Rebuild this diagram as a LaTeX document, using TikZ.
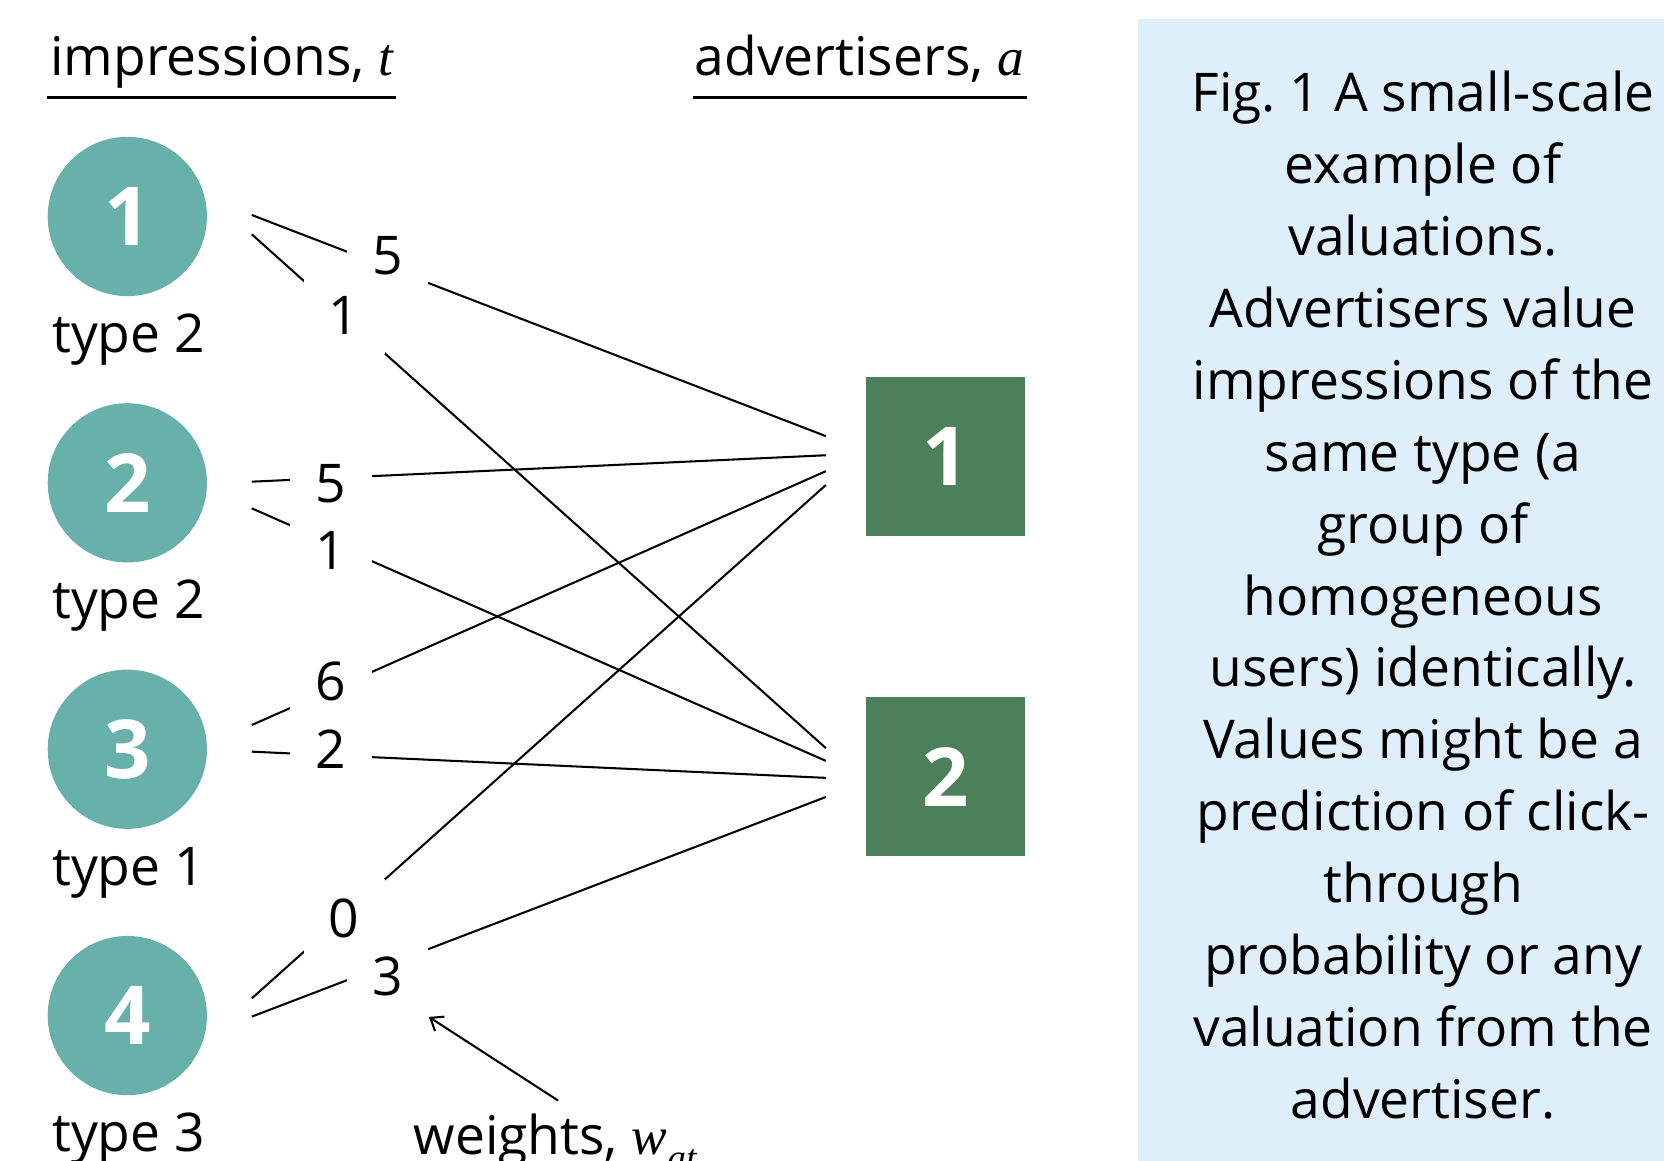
\documentclass[tikz,border=0pt]{standalone}
\usepackage{fontspec}
\setmainfont{Open Sans}
\newfontfamily\serifvar{Liberation Serif}
\newcommand{\mvar}[1]{{\serifvar\itshape #1}}
\usetikzlibrary{arrows.meta,calc,positioning}
\definecolor{imteal}{RGB}{104,176,170}
\definecolor{adgreen}{RGB}{77,127,90}
\definecolor{capblue}{RGB}{223,239,250}
\newcommand{\txtsize}{\fontsize{14.3}{17}\selectfont}
\frenchspacing
\tikzset{
  impr/.style={circle, fill=imteal, minimum size=1.5cm, inner sep=0pt,
               text=white, font=\fontsize{21.8}{26}\selectfont\bfseries},
  advr/.style={rectangle, fill=adgreen, minimum size=1.5cm, inner sep=0pt,
               text=white, font=\fontsize{21.8}{26}\selectfont\bfseries},
  hdr/.style={anchor=base west, inner sep=0pt, font=\txtsize},
  hdrline/.style={line width=0.72pt},
  typ/.style={anchor=base west, inner sep=0pt, font=\txtsize},
  edge/.style={line width=0.55pt},
  wt/.style={fill=white, minimum width=0.765cm, minimum height=0.74cm,
             inner sep=0pt, font=\txtsize},
  pointer/.style={line width=0.55pt, -{Straight Barb[length=3pt,width=4.6pt]}},
  capbox/.style={fill=capblue},
  captxt/.style={anchor=north, inner sep=0pt, align=center,
                 font=\fontsize{14.3}{19.28}\selectfont},
}

\begin{document}
\begin{tikzpicture}[x=0.01cm, y=-0.01cm]
\useasboundingbox (0,0) rectangle (1568,1094);

% caption panel
\fill[capbox] (1072,18) rectangle (1580,1100);
\node[captxt] (cap) at (1341,66) {%
Fig. 1 A small-scale\\
example of\\
valuations.\\
Advertisers value\\
impressions of the\\
same type (a\\
group of\\
homogeneous\\
users) identically.\\
Values might be a\\
prediction of click-\\
through\\
probability or any\\
valuation from the\\
advertiser.};

% column headers
\node[hdr] (hdrT) at (46.6,70.7) {impressions, \mvar{t}};
\node[hdr] (hdrA) at (654,70.7) {advertisers, \mvar{a}};
\draw[hdrline] ($(hdrT.base west)+(-2,21)$) -- ($(hdrT.base east)+(2,21)$);
\draw[hdrline] ($(hdrA.base west)+(-1,21)$) -- ($(hdrA.base east)+(2,21)$);

% impressions
\node[impr] (t1) at (120,204) {1};
\node[impr] (t2) at (120,455) {2};
\node[impr] (t3) at (120,706) {3};
\node[impr] (t4) at (120,957) {4};
\node[typ] at ($(t1)+(-71.5,128)$) {type 2};
\node[typ] at ($(t2)+(-71.5,128)$) {type 2};
\node[typ] at ($(t3)+(-71.5,128)$) {type 1};
\node[typ] at ($(t4)+(-71.5,128)$) {type 3};

% advertisers
\node[advr] (a1) at (891,430) {1};
\node[advr] (a2) at (891,732) {2};

% weighted edges
\draw[edge] ($(t1.east)+(41.5,16.8)$) -- node[wt,pos=.161,yshift=0.19mm] (w12) {1} ($(a2.west)+(-37,-27)$);
\draw[edge] ($(t1.east)+(41.5,-1.4)$) -- node[wt,pos=.236,yshift=1.07mm] (w11) {5} ($(a1.west)+(-37,-19)$);
\draw[edge] ($(t2.east)+(41.5,-1.1)$) -- node[wt,pos=.138,yshift=-0.5mm] (w21) {5} ($(a1.west)+(-37,-1)$);
\draw[edge] ($(t2.east)+(41.5,24)$) -- node[wt,pos=.138,yshift=-0.7mm] (w22) {1} ($(a2.west)+(-37,-15)$);
\draw[edge] ($(t3.east)+(41.5,-22.8)$) -- node[wt,pos=.138,yshift=0.77mm] (w31) {6} ($(a1.west)+(-37,14)$);
\draw[edge] ($(t3.east)+(41.5,2.3)$) -- node[wt,pos=.138,yshift=0.58mm] (w32) {2} ($(a2.west)+(-37,1)$);
\draw[edge] ($(t4.east)+(41.5,-16.2)$) -- node[wt,pos=.161,yshift=-0.21mm] (w41) {0} ($(a1.west)+(-37,27)$);
\draw[edge] ($(t4.east)+(41.5,1)$) -- node[wt,pos=.236,yshift=-1.11mm] (w42) {3} ($(a2.west)+(-37,19)$);

% weights label
\node[hdr, inner sep=0pt] (wts) at (389,1088) {weights, \mvar{w}\raisebox{-0.55ex}{\fontsize{10}{12}\selectfont\mvar{at}}};
\draw[pointer] ($(wts.north)+(3,-12)$) -- (w42.south east);
\end{tikzpicture}
\end{document}
